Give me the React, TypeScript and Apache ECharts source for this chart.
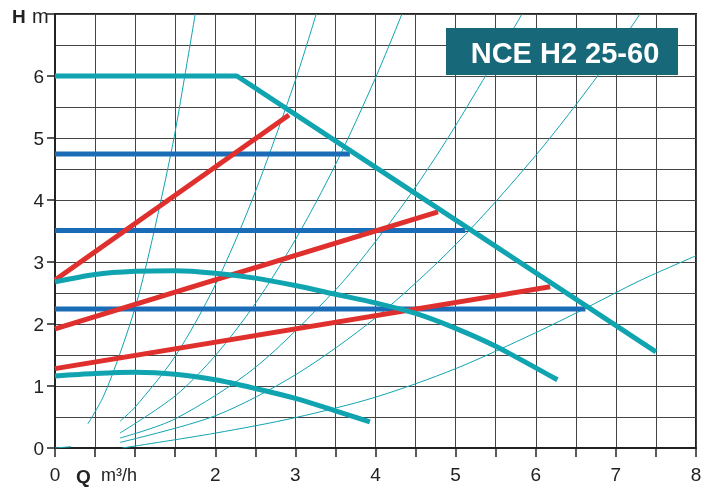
import React, { useEffect, useRef } from "react";
import * as echarts from "echarts";

// ---- data ----
const xTicks = [0, 2, 3, 4, 5, 6, 7, 8];
const yTicks = [0, 1, 2, 3, 4, 5, 6];
const title = "NCE H2 25-60";

const maxCurve = [[0, 6], [2.27, 6], [7.5, 1.55]];
const blueHigh = [[0, 4.74], [3.68, 4.74]];
const blueMid = [[0, 3.51], [5.12, 3.51]];
const blueLow = [[0, 2.24], [6.62, 2.24]];
const redHigh = [[0, 2.71], [2.92, 5.37]];
const redMid = [[0, 1.92], [4.78, 3.81]];
const redLow = [[0, 1.28], [6.18, 2.6]];
const domeUpper = [[0, 2.68], [0.5, 2.8], [1.0, 2.85], [1.5, 2.86], [2.0, 2.82], [2.5, 2.74], [3.0, 2.62], [3.5, 2.48], [4.0, 2.34], [4.5, 2.17], [5.0, 1.93], [5.5, 1.64], [6.27, 1.1]];
const domeLower = [[0, 1.16], [0.5, 1.2], [1.0, 1.22], [1.5, 1.19], [2.0, 1.1], [2.5, 0.96], [3.0, 0.8], [3.5, 0.6], [3.93, 0.42]];

const sys1 = [[0.41, 0.39], [0.6, 0.82], [0.81, 1.52], [1.02, 2.35], [1.22, 3.4], [1.47, 4.9], [1.62, 6.0], [1.75, 7.0]];
const sys2 = [[0.81, 0.43], [1.0, 0.66], [1.5, 1.48], [2.0, 2.63], [2.46, 4.0], [3.0, 5.93], [3.26, 7.0]];
const sys3 = [[0.81, 0.24], [1.5, 0.84], [2.0, 1.49], [2.5, 2.33], [3.0, 3.36], [3.5, 4.57], [4.0, 5.97], [4.33, 7.0]];
const sys4 = [[0.81, 0.16], [1.5, 0.47], [2.5, 1.3], [3.5, 2.55], [4.0, 3.33], [4.5, 4.21], [5.0, 5.2], [5.83, 7.0]];
const sys5 = [[0.81, 0.09], [2.0, 0.52], [3.0, 1.18], [4.0, 2.1], [5.0, 3.28], [6.0, 4.72], [6.8, 6.05], [7.3, 7.0]];
const sys6 = [[0.84, 0.0], [2.0, 0.24], [3.0, 0.49], [4.0, 0.82], [5.0, 1.28], [6.0, 1.86], [6.6, 2.24], [7.3, 2.7], [8.0, 3.1]];
const stub = [[0, 0.0], [0.2, 0.02]];

const TEAL = "#10a4b1";
const RED = "#e0302e";
const BLUE = "#1a6cb6";
const FONT = "'Liberation Sans', Arial, sans-serif";

export default function App() {
  const ref = useRef<HTMLDivElement>(null);
  useEffect(() => {
    if (!ref.current) return;
    const chart = echarts.init(ref.current, null, { renderer: "svg" });
    const thin = (data: number[][], smooth: number | boolean = 0.3) => ({
      type: "line", data, showSymbol: false, smooth, z: 2,
      lineStyle: { color: TEAL, width: 1 }, silent: true,
    });
    const thick = (data: number[][], color: string, smooth: number | boolean = false, z = 3) => ({
      type: "line", data, showSymbol: false, smooth, z,
      lineStyle: { color, width: 5, cap: "butt" }, silent: true,
    });
    chart.setOption({
      animation: false,
      grid: { left: 55, right: 23, top: 14, bottom: 42, show: true, borderColor: "#222", borderWidth: 2, backgroundColor: "transparent" },
      xAxis: {
        type: "value", min: 0, max: 8, interval: 0.5,
        axisLine: { show: true, lineStyle: { color: "#222", width: 2 } },
        axisTick: { show: true, length: 9, lineStyle: { color: "#222", width: 1.5 } },
        axisLabel: {
          margin: 17, fontSize: 19, color: "#222", fontFamily: FONT,
          formatter: (v: number) => (xTicks.indexOf(v) >= 0 ? String(v) : ""),
        },
        splitLine: { show: true, lineStyle: { color: "#444", width: 1 } },
      },
      yAxis: {
        type: "value", min: 0, max: 7, interval: 1,
        axisLine: { show: true, lineStyle: { color: "#222", width: 2 } },
        axisTick: { show: true, length: 8, lineStyle: { color: "#222", width: 1.5 } },
        axisLabel: {
          margin: 11, fontSize: 19, color: "#222", fontFamily: FONT,
          formatter: (v: number) => (yTicks.indexOf(v) >= 0 ? String(v) : ""),
        },
        splitLine: { show: true, lineStyle: { color: "#444", width: 1 } },
        minorTick: { show: false, splitNumber: 2 },
        minorSplitLine: { show: true, lineStyle: { color: "#444", width: 1 } },
      },
      series: [
        thin(sys1), thin(sys2), thin(sys3), thin(sys4), thin(sys5), thin(sys6), thin(stub, false),
        thick(blueHigh, BLUE), thick(blueMid, BLUE), thick(blueLow, BLUE),
        thick(redHigh, RED), thick(redMid, RED), thick(redLow, RED),
        thick(domeUpper, TEAL, 0.3, 4), thick(domeLower, TEAL, 0.3, 4),
        thick(maxCurve, TEAL, false, 5),
      ],
      graphic: [
        { type: "rect", z: 100, shape: { x: 446, y: 28, width: 232, height: 47 }, style: { fill: "#176878" } },
        { type: "text", z: 101, x: 565, y: 53, style: { text: title, fill: "#fff", font: `bold 29px ${FONT}`, align: "center", verticalAlign: "middle" } },
        { type: "text", z: 101, x: 12, y: 16, style: { text: "H", fill: "#222", font: `bold 19px ${FONT}`, verticalAlign: "middle" } },
        { type: "text", z: 101, x: 32, y: 16, style: { text: "m", fill: "#222", font: `20px ${FONT}`, verticalAlign: "middle" } },
        { type: "text", z: 101, x: 76, y: 476, style: { text: "Q", fill: "#222", font: `bold 19px ${FONT}`, verticalAlign: "middle" } },
        { type: "text", z: 101, x: 101, y: 475, style: { text: "m³/h", fill: "#222", font: `18px ${FONT}`, verticalAlign: "middle" } },
      ],
    });
    return () => chart.dispose();
  }, []);
  return <div ref={ref} style={{ position: "fixed", left: 0, top: 0, width: 719, height: 490 }} />;
}
